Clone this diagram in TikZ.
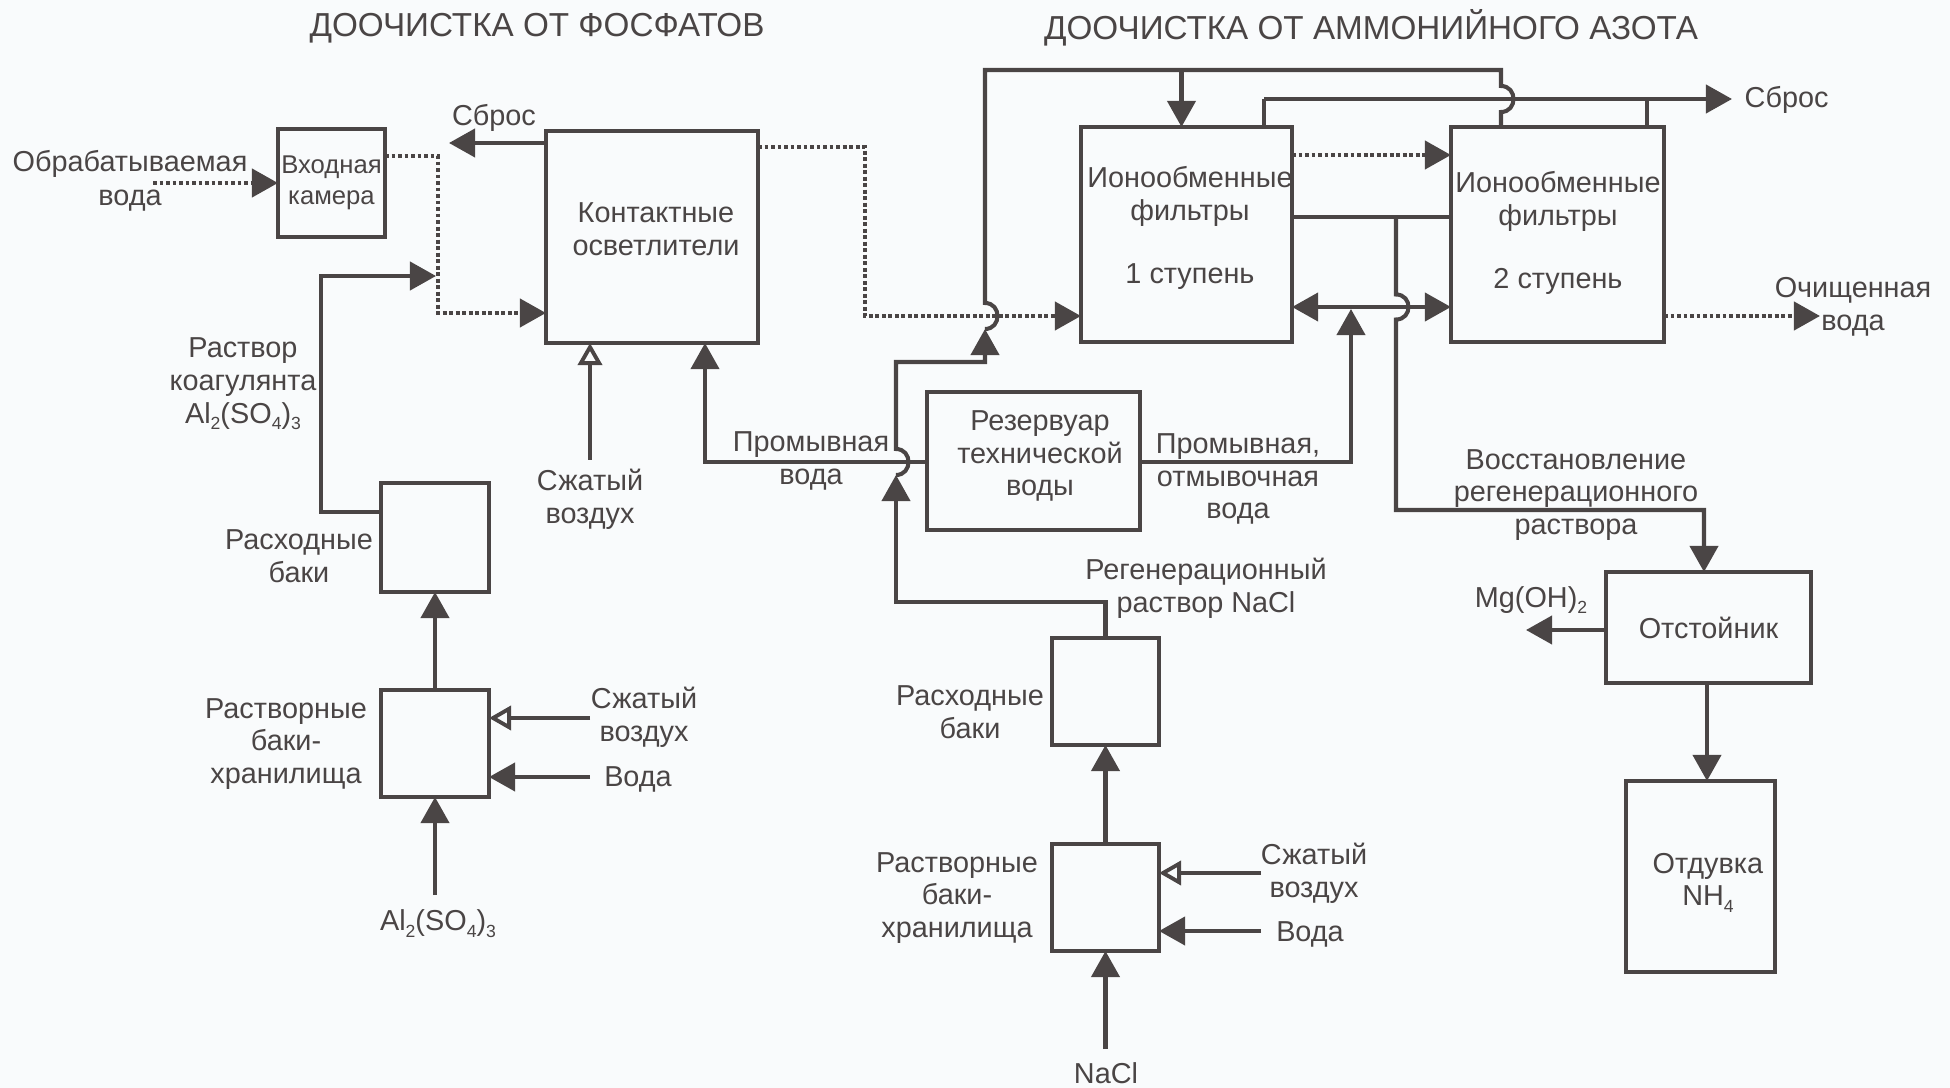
\documentclass[tikz,border=0pt]{standalone}
\usepackage{fontspec}
\setmainfont{Liberation Sans}
\usetikzlibrary{arrows.meta}
\definecolor{ink}{RGB}{74,69,69}
\definecolor{bg}{RGB}{249,251,252}
\newcommand\lf{\fontsize{8.2}{9.3}\selectfont}
\newcommand\hf{\fontsize{9.45}{11}\selectfont}
\newcommand\sbs[1]{\raisebox{-0.45ex}{\fontsize{5}{5}\selectfont #1}}
\tikzset{
  box/.style={draw=ink, line width=1.2pt, inner sep=0pt, outer sep=0pt, text=ink, align=center, font=\lf},
  lbl/.style={text=ink, align=center, inner sep=0pt, font=\lf},
  pipe/.style={draw=ink, line width=1.15pt},
  flow/.style={pipe, -{Triangle[length=0.26cm,width=0.28cm]}},
  flowo/.style={pipe, -{Triangle[open,length=0.22cm,width=0.24cm,line width=1.1pt]}},
  dotline/.style={draw=ink, line width=1.2pt, dash pattern=on 1.1pt off 0.75pt},
  dotflow/.style={dotline, -{Triangle[length=0.26cm,width=0.28cm]}},
  bothflow/.style={pipe, {Triangle[length=0.26cm,width=0.28cm]}-{Triangle[length=0.26cm,width=0.28cm]}},
}
\begin{document}
\begin{tikzpicture}[x=0.01cm,y=-0.01cm]
\fill[bg] (0,0) rectangle (1950,1088);
\useasboundingbox (0,0) rectangle (1950,1088);

% headings
\node[lbl, font=\hf] (h1) at (537,28) {ДООЧИСТКА ОТ ФОСФАТОВ};
\node[lbl, font=\hf] (h2) at (1371,28) {ДООЧИСТКА ОТ АММОНИЙНОГО АЗОТА};

% boxes
\node[box, font=\fontsize{7.3}{9}\selectfont, minimum width=1.07cm, minimum height=1.08cm] (inp) at (331.5,183) {Входная\\камера};
\node[box, minimum width=2.12cm, minimum height=2.12cm] (kont) at (652,237) {};
\node[lbl] (kontT) at (656,229) {Контактные\\осветлители};
\node[box, minimum width=2.11cm, minimum height=2.15cm] (ion1) at (1186.5,234.5) {};
\node[lbl] (ion1T) at (1190,228) {Ионообменные\\фильтры\\[0.31cm]1 ступень};
\node[box, minimum width=2.13cm, minimum height=2.15cm] (ion2) at (1557.5,234.5) {};
\node[lbl] (ion2T) at (1558,233) {Ионообменные\\фильтры\\[0.31cm]2 ступень};
\node[box, minimum width=2.13cm, minimum height=1.38cm] (res) at (1033.5,461) {};
\node[lbl] (resT) at (1040,456) {Резервуар\\технической\\воды};
\node[box, minimum width=1.08cm, minimum height=1.09cm] (rash1) at (435,537.5) {};
\node[box, minimum width=1.08cm, minimum height=1.07cm] (rast1) at (435,743.5) {};
\node[box, minimum width=1.07cm, minimum height=1.07cm] (rash2) at (1105.5,691.5) {};
\node[box, minimum width=1.07cm, minimum height=1.07cm] (rast2) at (1105.5,897.5) {};
\node[box, minimum width=2.05cm, minimum height=1.11cm] (otst) at (1708.5,627.5) {Отстойник};
\node[box, minimum width=1.49cm, minimum height=1.91cm] (otd) at (1700.5,876.5) {};
\node[lbl] (otdT) at (1708,883) {Отдувка\\NH\sbs{4}};

% labels
\node[lbl, font=\fontsize{8.2}{9.8}\selectfont] (lWater) at (130,181) {Обрабатываемая\\вода};
\node[lbl] (lSbros1) at (494,118) {Сброс};
\node[lbl] (lKoag) at (243,384) {Раствор\\коагулянта\\Al\sbs{2}(SO\sbs{4})\sbs{3}};
\node[lbl] (lRash1) at (299,556) {Расходные\\баки};
\node[lbl] (lRast1) at (286,744) {Растворные\\баки-\\хранилища};
\node[lbl] (lAir1) at (644,717) {Сжатый\\воздух};
\node[lbl] (lVoda1) at (638,779) {Вода};
\node[lbl] (lAl) at (438,924) {Al\sbs{2}(SO\sbs{4})\sbs{3}};
\node[lbl] (lAirK) at (590,499) {Сжатый\\воздух};
\node[lbl] (lProm) at (811,461) {Промывная\\вода};
\node[lbl] (lProm2) at (1238,479) {Промывная,\\отмывочная\\вода};
\node[lbl] (lReg) at (1206,588) {Регенерационный\\раствор NaCl};
\node[lbl] (lRash2) at (970,712) {Расходные\\баки};
\node[lbl] (lRast2) at (957,898) {Растворные\\баки-\\хранилища};
\node[lbl] (lAir2) at (1314,873) {Сжатый\\воздух};
\node[lbl] (lVoda2) at (1310,934) {Вода};
\node[lbl] (lNaCl) at (1106,1073) {NaCl};
\node[lbl] (lVosst) at (1576,495) {Восстановление\\регенерационного\\раствора};
\node[lbl] (lMg) at (1531,600) {Mg(OH)\sbs{2}};
\node[lbl, anchor=west] (lSbros2) at (1744,100) {Сброс};
\node[lbl] (lClean) at (1853,307) {Очищенная\\вода};

% free ends
\coordinate (cSrc) at (153,183);
\coordinate (cSbros1) at (449,143);
\coordinate (cAirK) at (590,460);
\coordinate (cSbros2) at (1732,99);
\coordinate (cClean) at (1820,316);
\coordinate (cMg) at (1526,630);
\coordinate (cAl) at (435,895);
\coordinate (cAir1) at (590,718);
\coordinate (cVoda1) at (590,777);
\coordinate (cNaCl) at (1105.5,1049);
\coordinate (cAir2) at (1261,873);
\coordinate (cVoda2) at (1261,931);

% phosphate part
\draw[dotflow] (cSrc) -- (inp.west);
\draw[dotflow] (inp.east |- 0,156) -- (438,156) -- (438,313) -- (kont.west |- 0,313);
\draw[flow] (rash1.west |- 0,512) -- (321,512) -- (321,276) -- (436,276);
\draw[flow] (kont.west |- 0,143) -- (cSbros1);
\draw[flowo] (cAirK) -- (kont.south -| cAirK);
\draw[flow] (res.west |- 0,462) -- (705,462) -- (kont.south -| 705,0);
\draw[flow] (rast1.north) -- (rash1.south);
\draw[flow] (cAl) -- (rast1.south);
\draw[flowo] (cAir1) -- (rast1.east |- cAir1);
\draw[flow] (cVoda1) -- (rast1.east |- cVoda1);

% ammonium part
\draw[dotflow] (kont.east |- 0,147) -- (865,147) -- (865,316) -- (ion1.west |- 0,316);
\draw[flow] (rash2.north) -- (1105.5,602) -- (896,602) -- (896,475);
\draw[flow] (896,475) .. controls (912.7,475) and (912.7,449) .. (896,449) -- (896,362) -- (985,362) -- (985,329);
\draw[pipe] (985,329) .. controls (1001.7,329) and (1001.7,303) .. (985,303) -- (985,70) -- (1501,70) -- (1501,86)
  .. controls (1517.7,86) and (1517.7,112) .. (1501,112) -- (ion2.north -| 1501,0);
\draw[flow] (1181.5,70) -- (ion1.north -| 1181.5,0);
\draw[pipe] (ion1.north -| 1264,0) -- (1264,99);
\draw[pipe] (ion2.north -| 1647,0) -- (1647,99);
\draw[flow] (1264,99) -- (cSbros2);
\draw[dotflow] (ion1.east |- 0,155) -- (ion2.west |- 0,155);
\draw[pipe] (ion1.east |- 0,217) -- (ion2.west |- 0,217);
\draw[flow] (1396,217) -- (1396,294.5) .. controls (1412.7,294.5) and (1412.7,319.5) .. (1396,319.5)
  -- (1396,510) -- (1704,510) -- (otst.north -| 1704,0);
\draw[bothflow] (ion1.east |- 0,307) -- (ion2.west |- 0,307);
\draw[flow] (res.east |- 0,462) -- (1351,462) -- (1351,309);
\draw[dotflow] (ion2.east |- 0,316) -- (cClean);
\draw[flow] (otst.south -| 1707,0) -- (otd.north -| 1707,0);
\draw[flow] (otst.west |- cMg) -- (cMg);
\draw[flow] (rast2.north) -- (rash2.south);
\draw[flow] (cNaCl) -- (rast2.south);
\draw[flowo] (cAir2) -- (rast2.east |- cAir2);
\draw[flow] (cVoda2) -- (rast2.east |- cVoda2);
\end{tikzpicture}
\end{document}
